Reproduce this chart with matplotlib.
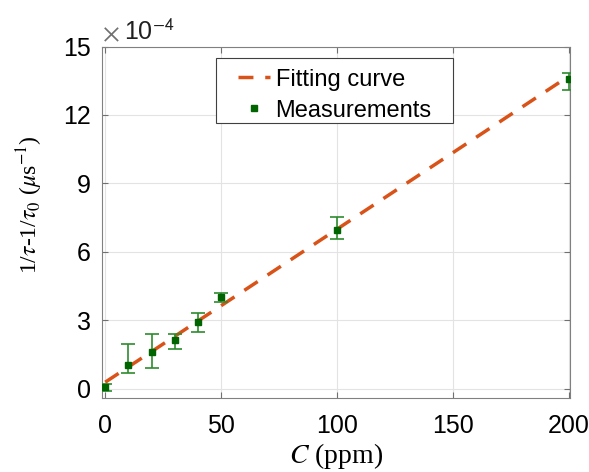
import numpy as np
import matplotlib
matplotlib.use("Agg")
import matplotlib.pyplot as plt
from matplotlib.lines import Line2D
from matplotlib.patches import Rectangle

# concentration (ppm) and measured decay-rate difference (x1e-4 us^-1)
conc = [0, 10, 20, 30, 40, 50, 100, 200]
rate = [0.05, 1.04, 1.62, 2.15, 2.90, 4.00, 6.95, 13.56]
err_lo = [0.15, 0.37, 0.70, 0.43, 0.43, 0.20, 0.39, 0.48]
err_hi = [0.15, 0.92, 0.78, 0.25, 0.40, 0.17, 0.58, 0.27]

# fitted straight line end points
fit_x = [0, 200]
fit_y = [0.28, 13.70]

scale = 1e-4
fit_color = "#D95319"

plt.rcParams["font.family"] = ["Liberation Sans", "DejaVu Sans"]
plt.rcParams["mathtext.fontset"] = "stix"

fig = plt.figure(figsize=(5.89, 4.72), dpi=100)
ax = fig.add_axes([102 / 589, 1 - 397.7 / 472, 468 / 589, (397.7 - 46.5) / 472])

ax.plot(np.array(fit_x), np.array(fit_y) * scale, "--", color=fit_color,
        lw=2.5, dashes=(4.6, 3.4), zorder=3)
eb = ax.errorbar(conc, np.array(rate) * scale,
                 yerr=[np.array(err_lo) * scale, np.array(err_hi) * scale],
                 fmt="s", color="#006400", ecolor="#2E8B2E", ms=5, elinewidth=1.2,
                 capsize=5, capthick=1.2, zorder=4)

ax.set_xlim(-1.4, 200.5)
ax.set_ylim(-0.4e-4, 15e-4)
ax.set_xticks([0, 50, 100, 150, 200])
ax.set_yticks(np.array([0, 3, 6, 9, 12, 15]) * scale)
ax.set_yticklabels(["0", "3", "6", "9", "12", "15"])
ax.grid(True, color="#E3E3E3", lw=0.8)
ax.set_axisbelow(True)
ax.tick_params(direction="in", top=True, right=True, labelsize=18,
               color="#707070", length=4)
ax.tick_params(axis="x", pad=12)
ax.tick_params(axis="y", pad=8)
for s in ax.spines.values():
    s.set_color("#808080")

ax.text(0.0, 1.0, r"$\times$", transform=ax.transAxes, fontsize=19,
        color="#707070", ha="left", va="bottom")
ax.text(0.048, 1.005, r"10$^{\mathsf{-4}}$", transform=ax.transAxes,
        fontsize=18, color="#202020", ha="left", va="bottom")

ax.set_xlabel(r"$C$ (ppm)", fontsize=20, family="Liberation Serif", labelpad=2)
ax.set_ylabel(r"1/$\tau$-1/$\tau_0$ ($\mu$s$^{-1}$)", fontsize=17,
              family="Liberation Serif")
ax.yaxis.set_label_coords(-0.121, 0.551)

# legend handle for the dashed fit, with two even dashes like the original
fit_handle = Line2D([], [], color=fit_color, lw=2.5, dashes=(4.3, 3.4))

leg = ax.legend([fit_handle, eb[0]], ["Fitting curve", "Measurements"],
                loc="upper left", bbox_to_anchor=(0.2675, 0.967), fontsize=17,
                frameon=False, handlelength=1.35, borderpad=0.45,
                labelspacing=0.38, handletextpad=0.25, borderaxespad=0,
                markerscale=0.8)

# legend frame with wider side padding than matplotlib allows
fig.canvas.draw()
bb = leg.get_window_extent().transformed(fig.transFigure.inverted())
padx = 11 / 589
trim = 9 / 472
box = Rectangle((bb.x0 - padx, bb.y0 + trim), bb.width + 2 * padx, bb.height - trim,
                transform=fig.transFigure, facecolor="white",
                edgecolor="#404040", lw=0.8, zorder=4.5)
ax.add_patch(box)
leg.set_zorder(5)

fig.savefig("out.png", dpi=100)
